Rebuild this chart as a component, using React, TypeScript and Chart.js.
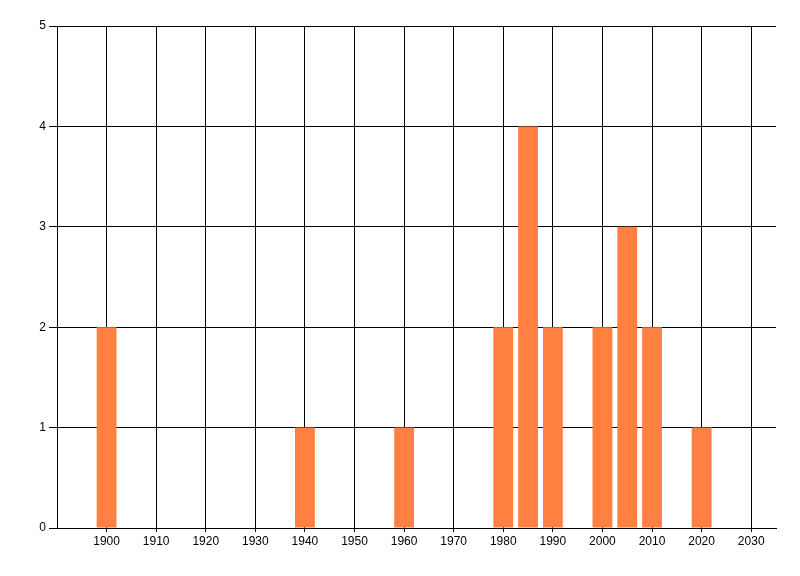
import React, { useEffect, useRef } from "react";
import { Chart, registerables } from "chart.js";

Chart.register(...registerables);

const years = [1900, 1940, 1960, 1980, 1985, 1990, 2000, 2005, 2010, 2020];
const counts = [2, 1, 1, 2, 4, 2, 2, 3, 2, 1];
const xTickValues = [1900, 1910, 1920, 1930, 1940, 1950, 1960, 1970, 1980, 1990, 2000, 2010, 2020, 2030];
const yTickValues = [0, 1, 2, 3, 4, 5];

const FONT = "'Liberation Sans Narrow', 'Liberation Sans', Arial, sans-serif";

export default function App() {
  const ref = useRef<HTMLCanvasElement | null>(null);

  useEffect(() => {
    if (!ref.current) return;
    const chart = new Chart(ref.current, {
      type: "bar",
      data: {
        datasets: [
          {
            data: years.map((y, i) => ({ x: y, y: counts[i] })),
            backgroundColor: "rgb(255,128,64)",
            borderWidth: 0,
            barPercentage: 0.8,
            categoryPercentage: 1,
          },
        ],
      },
      options: {
        animation: false,
        responsive: false,
        maintainAspectRatio: false,
        layout: { padding: { left: 0, top: 26, right: 24, bottom: 0 } },
        plugins: { legend: { display: false }, tooltip: { enabled: false } },
        scales: {
          x: {
            type: "linear",
            min: 1890,
            max: 2035,
            offset: false,
            afterBuildTicks: (scale: any) => {
              scale.ticks = xTickValues.map((v) => ({ value: v }));
            },
            afterFit: (scale: any) => {
              scale.height = 48;
            },
            grid: { color: "#000", lineWidth: 1, tickLength: 4, offset: false },
            border: { color: "#000", width: 1 },
            ticks: {
              color: "#000",
              font: { family: FONT, size: 12 },
              padding: 2,
              maxRotation: 0,
              autoSkip: false,
              callback: (v: any) => String(v),
            },
          },
          y: {
            min: 0,
            max: 5,
            afterBuildTicks: (scale: any) => {
              scale.ticks = yTickValues.map((v) => ({ value: v }));
            },
            afterFit: (scale: any) => {
              scale.width = 57;
            },
            grid: { color: "#000", lineWidth: 1, tickLength: 8 },
            border: { color: "#000", width: 1 },
            ticks: {
              color: "#000",
              font: { family: FONT, size: 12 },
              padding: 3,
              callback: (v: any) => String(v),
            },
          },
        },
      },
    });
    return () => chart.destroy();
  }, []);

  return (
    <div style={{ position: "absolute", left: 0, top: 0, width: 800, height: 576, background: "#fff" }}>
      <canvas ref={ref} width={800} height={576} style={{ width: 800, height: 576 }} />
    </div>
  );
}
